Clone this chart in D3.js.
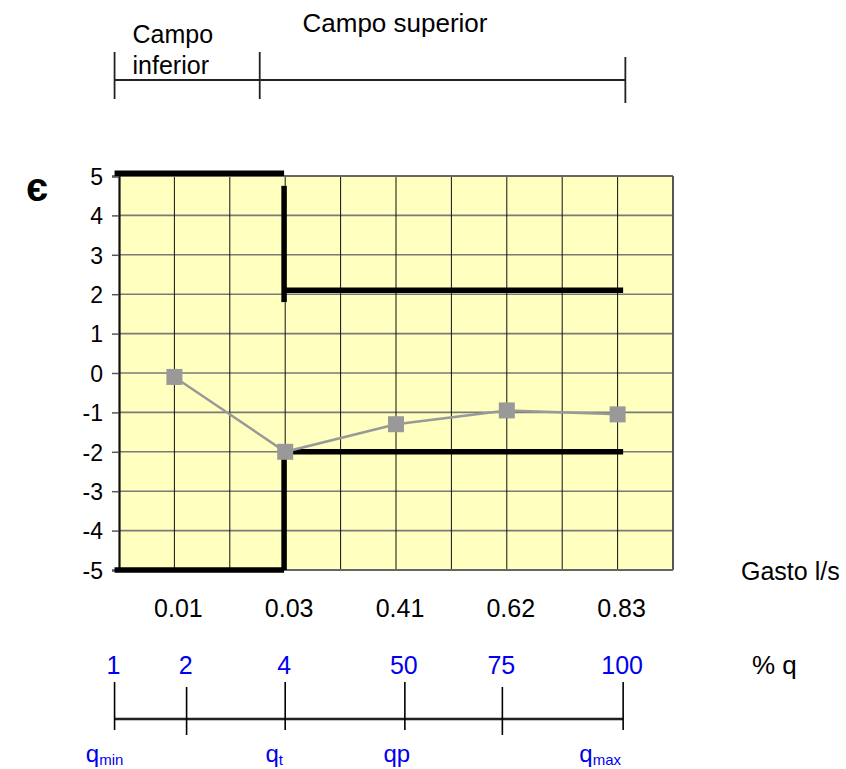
<!DOCTYPE html>
<html><head><meta charset="utf-8">
<script src="https://cdn.jsdelivr.net/npm/d3@7"></script>
<style>body{margin:0;background:#fff} svg{display:block} text{font-family:"Liberation Sans",Arial,sans-serif}</style>
</head><body><svg id="c" width="846" height="769"></svg>
<script>
// ---- data ----
const categories = ["0.01", "0.03", "0.41", "0.62", "0.83"];
const errorValues = [-0.1, -2.0, -1.3, -0.95, -1.05];
const yTickValues = [-5, -4, -3, -2, -1, 0, 1, 2, 3, 4, 5];
// limit lines: [category index, error %]
const limitLowerFieldTop = [[-0.54, 5.07], [0.99, 5.07]];
const limitStepUp = [[0.99, 4.75], [0.99, 1.8]];
const limitUpperFieldTop = [[0.99, 2.1], [4.05, 2.1]];
const limitUpperFieldBottom = [[0.99, -2], [4.05, -2]];
const limitStepDown = [[0.99, -2], [0.99, -5]];
const limitLowerFieldBottom = [[-0.54, -5], [0.99, -5]];
// field bracket (category index units)
const fieldBounds = [-0.54, 0.77, 4.07];
const fieldNames = [["Campo", "inferior"], ["Campo superior"]];
// flow percentage scale
const percentLabels = ["1", "2", "4", "50", "75", "100"];
const percentPos = [-0.54, 0.11, 1.0, 2.08, 2.96, 4.05];
const flowNames = [["q", "min"], null, ["q", "t"], ["qp", ""], null, ["q", "max"]];

// ---- layout ----
const svg = d3.select("#c");
const L = 119, R = 673, T = 176, B = 570;
const x = d3.scaleBand().domain(categories).range([L, R]).padding(0);
const xi = d3.scaleLinear().domain([-0.5, categories.length - 0.5]).range([L, R]);
const y = d3.scaleLinear().domain([-5, 5]).range([B, T]);
const blue = "#0000ee";

// plot background
svg.append("rect").attr("x", L).attr("y", T).attr("width", R - L).attr("height", B - T).attr("fill", "#FFFFC0");

// horizontal gridlines
svg.append("g").selectAll("line").data(yTickValues.filter(v => v > -5 && v < 5)).join("line")
  .attr("x1", L).attr("x2", R).attr("y1", d => y(d)).attr("y2", d => y(d))
  .attr("stroke", "#7a7a7a").attr("stroke-width", 1.6);
// vertical gridlines (category centres and boundaries)
const vLines = d3.range(1, categories.length * 2).map(k => -0.5 + k * 0.5);
svg.append("g").selectAll("line").data(vLines).join("line")
  .attr("x1", d => xi(d)).attr("x2", d => xi(d)).attr("y1", T).attr("y2", B)
  .attr("stroke", "#111").attr("stroke-width", 1);

// frame
svg.append("line").attr("x1", L).attr("x2", R).attr("y1", T).attr("y2", T).attr("stroke", "#666").attr("stroke-width", 2);
svg.append("line").attr("x1", R).attr("x2", R).attr("y1", T).attr("y2", B).attr("stroke", "#555").attr("stroke-width", 2);
svg.append("line").attr("x1", L).attr("x2", R).attr("y1", B).attr("y2", B).attr("stroke", "#666").attr("stroke-width", 2);

// y axis
const yAxis = d3.axisLeft(y).tickValues(yTickValues).tickSize(7).tickPadding(12).tickFormat(d => String(d));
const gy = svg.append("g").attr("transform", `translate(${L},0)`).call(yAxis);
gy.select(".domain").attr("stroke", "#111").attr("stroke-width", 2.2);
gy.selectAll(".tick line").attr("stroke", "#555").attr("stroke-width", 1.5);
gy.selectAll(".tick text").attr("font-size", 23).attr("fill", "#000")
  .attr("font-family", "'Liberation Sans', Arial, sans-serif").attr("dy", "0.36em").attr("x", -16);

// x category labels
svg.append("g").selectAll("text").data(categories).join("text")
  .attr("x", d => x(d) + x.bandwidth() / 2 + 4).attr("y", 617)
  .attr("text-anchor", "middle").attr("font-size", 25).text(d => d);

// limit lines
const line = d3.line().x(d => xi(d[0])).y(d => y(d[1]));
[limitLowerFieldTop, limitStepUp, limitUpperFieldTop, limitUpperFieldBottom, limitStepDown, limitLowerFieldBottom]
  .forEach(seg => svg.append("path").attr("d", line(seg)).attr("fill", "none")
    .attr("stroke", "#000").attr("stroke-width", 5.5).attr("stroke-linecap", "butt"));

// error series
const pts = categories.map((c, i) => [x(c) + x.bandwidth() / 2, y(errorValues[i])]);
svg.append("path").attr("d", d3.line()(pts)).attr("fill", "none").attr("stroke", "#999").attr("stroke-width", 2.5);
svg.append("g").selectAll("rect").data(pts).join("rect")
  .attr("x", d => d[0] - 8).attr("y", d => d[1] - 8).attr("width", 16).attr("height", 16).attr("fill", "#999");

// epsilon symbol
svg.append("text").attr("x", 37).attr("y", 201).attr("text-anchor", "middle")
  .attr("font-size", 40).attr("font-weight", "bold").text("є");

// Gasto l/s
svg.append("text").attr("x", 741).attr("y", 580).attr("font-size", 25).text("Gasto l/s");

// top field bracket
const by = 80;
svg.append("line").attr("x1", xi(fieldBounds[0])).attr("x2", xi(fieldBounds[2])).attr("y1", by).attr("y2", by).attr("stroke", "#222").attr("stroke-width", 2);
fieldBounds.forEach((b, i) => {
  const last = i === fieldBounds.length - 1;
  svg.append("line").attr("x1", xi(b)).attr("x2", xi(b))
    .attr("y1", last ? 57 : 52).attr("y2", last ? 103 : 99)
    .attr("stroke", "#222").attr("stroke-width", 1.8);
});
svg.append("text").attr("x", xi(fieldBounds[0]) + 18).attr("y", 43).attr("font-size", 25).text(fieldNames[0][0]);
svg.append("text").attr("x", xi(fieldBounds[0]) + 18).attr("y", 74).attr("font-size", 25).text(fieldNames[0][1]);
svg.append("text").attr("x", 395).attr("y", 32).attr("text-anchor", "middle").attr("font-size", 26).text(fieldNames[1][0]);

// bottom percentage scale
const py = 719;
svg.append("line").attr("x1", xi(percentPos[0])).attr("x2", xi(percentPos[percentPos.length - 1]))
  .attr("y1", py).attr("y2", py).attr("stroke", "#888").attr("stroke-width", 3.2);
svg.append("line").attr("x1", xi(percentPos[0])).attr("x2", xi(percentPos[percentPos.length - 1]))
  .attr("y1", py).attr("y2", py).attr("stroke", "#000").attr("stroke-width", 1.4);
const g = svg.append("g").selectAll("g").data(percentLabels).join("g");
g.append("line").attr("x1", (d, i) => xi(percentPos[i])).attr("x2", (d, i) => xi(percentPos[i]))
  .attr("y1", (d, i) => flowNames[i] ? 682 : 687).attr("y2", (d, i) => flowNames[i] ? 730 : 735)
  .attr("stroke", "#000").attr("stroke-width", 1.6);
g.append("text").attr("x", (d, i) => xi(percentPos[i]) - 1).attr("y", 674)
  .attr("text-anchor", "middle").attr("font-size", 25).attr("fill", blue).text(d => d);
svg.append("text").attr("x", 752).attr("y", 674).attr("font-size", 26).text("% q");

const flowDx = [-10, 0, -11, -8, 0, -23];
flowNames.forEach((f, i) => {
  if (!f) return;
  const t = svg.append("text").attr("x", xi(percentPos[i]) + flowDx[i]).attr("y", 762)
    .attr("text-anchor", "middle").attr("font-size", 24).attr("fill", blue);
  t.append("tspan").text(f[0]);
  if (f[1]) t.append("tspan").attr("font-size", 15).attr("dy", 3).text(f[1]);
});
</script></body></html>
